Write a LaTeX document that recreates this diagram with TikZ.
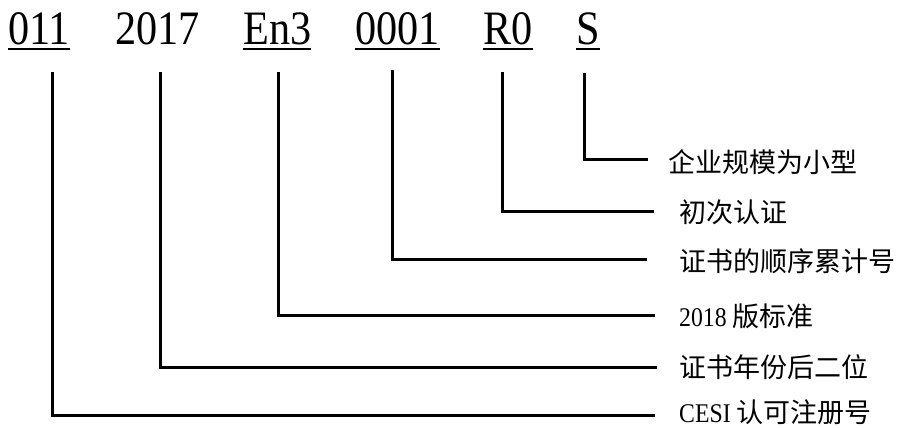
\documentclass[tikz,border=0pt]{standalone}
\usepackage{fontspec}
\setmainfont[FakeStretch=0.88]{Liberation Serif}
\newfontfamily\cjk{Noto Sans CJK SC}
\begin{document}
\begin{tikzpicture}[x=1pt,y=-1pt,
  code/.style={inner sep=0pt,anchor=base west,font=\fontsize{48}{50}\selectfont},
  lab/.style={inner sep=0pt,anchor=west,font=\fontsize{27}{30}\selectfont},
  conn/.style={line width=3pt},
  uline/.style={line width=1.7pt}]
\useasboundingbox (0,0) rectangle (903,428);
% code tokens
\node[code] (c1) at (8,45) {011};
\node[code] (c2) at (115,45) {2017};
\node[code] (c3) at (243,45) {En3};
\node[code] (c4) at (355,45) {0001};
\node[code] (c5) at (483,45) {R0};
\node[code] (c6) at (576,45) {S};
\foreach \n in {c1,c3,c4,c5,c6}
  \draw[uline] ([yshift=-4pt]\n.base west) -- ([yshift=-4pt]\n.base east);
% labels
\node[lab] (l6) at (668,162) {\cjk 企业规模为小型};
\node[lab] (l5) at (679,212) {\cjk 初次认证};
\node[lab] (l4) at (679,261) {\cjk 证书的顺序累计号};
\node[lab] (l3) at (679,316) {2018 {\cjk 版标准}};
\node[lab] (l2) at (679,367) {\cjk 证书年份后二位};
\node[lab] (l1) at (679,412) {CESI {\cjk 认可注册号}};
% connector ends
\coordinate (t1) at (52,72);   \coordinate (e1) at (655,415);
\coordinate (t2) at (160,72);  \coordinate (e2) at (657,367);
\coordinate (t3) at (278,72);  \coordinate (e3) at (655,315);
\coordinate (t4) at (392,70);  \coordinate (e4) at (647,259);
\coordinate (t5) at (502,72);  \coordinate (e5) at (654,211);
\coordinate (t6) at (584,73);  \coordinate (e6) at (648,159);
\foreach \i in {1,...,6}
  \draw[conn] (t\i) |- (e\i);
\end{tikzpicture}
\end{document}
